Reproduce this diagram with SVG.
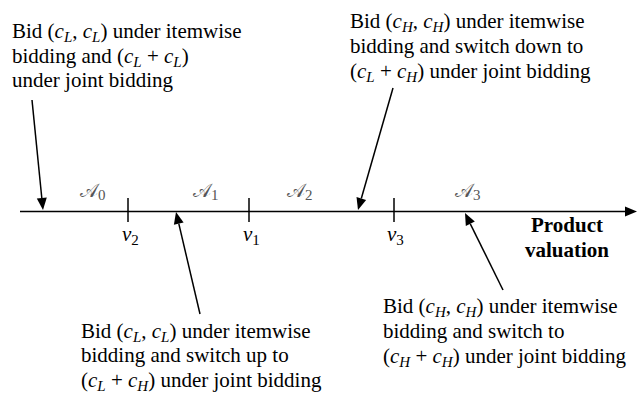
<svg xmlns="http://www.w3.org/2000/svg" width="638" height="397" viewBox="0 0 638 397">
<style>
.t{font-family:'Times New Roman','Liberation Serif',Tinos,serif;font-size:21px;fill:#000}
.i{font-style:italic}
.s{font-size:15px;font-style:italic}
.d{font-size:15px;font-style:normal}
.b{font-weight:bold}
.scr{font-family:'DejaVu Sans',serif;font-size:19px;fill:#555}
.ln{stroke:#000;stroke-width:1.5}
.hd{fill:#000;stroke:none}
</style>
<g id="note-a0">
<text class="t" x="12" y="38">Bid (<tspan class="i">c</tspan><tspan class="s" dy="4">L</tspan><tspan dy="-4">, </tspan><tspan class="i">c</tspan><tspan class="s" dy="4">L</tspan><tspan dy="-4">) under itemwise</tspan></text>
<text class="t" x="12" y="63">bidding and (<tspan class="i">c</tspan><tspan class="s" dy="4">L</tspan><tspan dy="-4"> + </tspan><tspan class="i">c</tspan><tspan class="s" dy="4">L</tspan><tspan dy="-4">)</tspan></text>
<text class="t" x="12" y="87">under joint bidding</text>
</g>
<g id="note-a2">
<text class="t" x="350" y="28">Bid (<tspan class="i">c</tspan><tspan class="s" dy="4">H</tspan><tspan dy="-4">, </tspan><tspan class="i">c</tspan><tspan class="s" dy="4">H</tspan><tspan dy="-4">) under itemwise</tspan></text>
<text class="t" x="350" y="53">bidding and switch down to</text>
<text class="t" x="350" y="78">(<tspan class="i">c</tspan><tspan class="s" dy="4">L</tspan><tspan dy="-4"> + </tspan><tspan class="i">c</tspan><tspan class="s" dy="4">H</tspan><tspan dy="-4">) under joint bidding</tspan></text>
</g>
<g id="note-a1">
<text class="t" x="81" y="338">Bid (<tspan class="i">c</tspan><tspan class="s" dy="4">L</tspan><tspan dy="-4">, </tspan><tspan class="i">c</tspan><tspan class="s" dy="4">L</tspan><tspan dy="-4">) under itemwise</tspan></text>
<text class="t" x="81" y="362">bidding and switch up to</text>
<text class="t" x="81" y="387">(<tspan class="i">c</tspan><tspan class="s" dy="4">L</tspan><tspan dy="-4"> + </tspan><tspan class="i">c</tspan><tspan class="s" dy="4">H</tspan><tspan dy="-4">) under joint bidding</tspan></text>
</g>
<g id="note-a3">
<text class="t" x="383" y="313">Bid (<tspan class="i">c</tspan><tspan class="s" dy="4">H</tspan><tspan dy="-4">, </tspan><tspan class="i">c</tspan><tspan class="s" dy="4">H</tspan><tspan dy="-4">) under itemwise</tspan></text>
<text class="t" x="383" y="338">bidding and switch to</text>
<text class="t" x="383" y="363">(<tspan class="i">c</tspan><tspan class="s" dy="4">H</tspan><tspan dy="-4"> + </tspan><tspan class="i">c</tspan><tspan class="s" dy="4">H</tspan><tspan dy="-4">) under joint bidding</tspan></text>
</g>
<g id="axis-label">
<text class="t b" x="567" y="232" text-anchor="middle">Product</text>
<text class="t b" x="567" y="257" text-anchor="middle">valuation</text>
</g>
<g id="valuations">
<text class="t i" x="122" y="241">v<tspan class="d" dy="4">2</tspan></text>
<text class="t i" x="243" y="241">v<tspan class="d" dy="4">1</tspan></text>
<text class="t i" x="387" y="241">v<tspan class="d" dy="4">3</tspan></text>
</g>
<g id="axis">
<line class="ln" x1="20" y1="211.5" x2="626" y2="211.5"/>
<polygon class="hd" points="637,211.5 625,206.5 625,216.5"/>
<line class="ln" x1="128" y1="198" x2="128" y2="222"/>
<line class="ln" x1="249" y1="198" x2="249" y2="222"/>
<line class="ln" x1="394" y1="198" x2="394" y2="222"/>
</g>
<g id="connectors">
<line class="ln" x1="32" y1="100" x2="41.8" y2="198"/>
<polygon class="hd" points="43,210 36.8,198.6 46.8,197.6"/>
<line class="ln" x1="200" y1="314" x2="178.8" y2="223.7"/>
<polygon class="hd" points="176,212 183.6,222.5 173.9,224.8"/>
<line class="ln" x1="393" y1="88" x2="361.3" y2="198.5"/>
<polygon class="hd" points="358,210 356.5,197.1 366.1,199.9"/>
<line class="ln" x1="503" y1="290" x2="470.3" y2="223.8"/>
<polygon class="hd" points="465,213 474.8,221.6 465.8,226"/>
</g>
<g id="regions">
<text class="scr" x="80" y="197">𝒜<tspan class="t d" style="fill:#555" dy="3">0</tspan></text>
<text class="scr" x="193" y="197">𝒜<tspan class="t d" style="fill:#555" dy="3">1</tspan></text>
<text class="scr" x="287" y="197">𝒜<tspan class="t d" style="fill:#555" dy="3">2</tspan></text>
<text class="scr" x="455" y="197">𝒜<tspan class="t d" style="fill:#555" dy="3">3</tspan></text>
</g>
</svg>
